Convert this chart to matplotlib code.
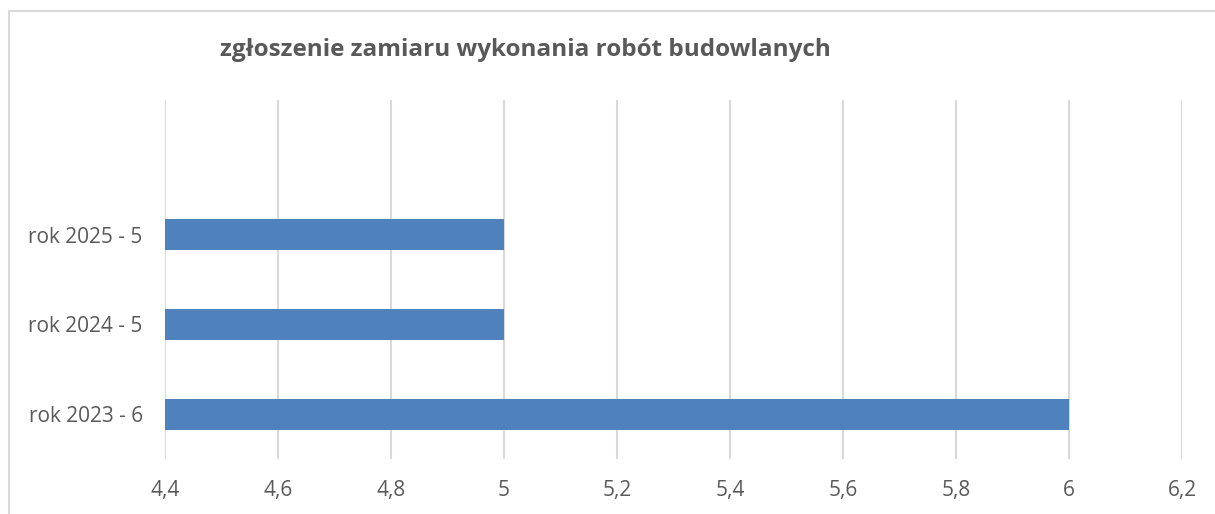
import matplotlib.pyplot as plt
from matplotlib.patches import Rectangle

# dane
kategorie = ['rok 2023 - 6', 'rok 2024 - 5', 'rok 2025 - 5']
wartosci = [6, 5, 5]
ticki = [4.4, 4.6, 4.8, 5.0, 5.2, 5.4, 5.6, 5.8, 6.0, 6.2]
tick_etykiety = ['4,4', '4,6', '4,8', '5', '5,2', '5,4', '5,6', '5,8', '6', '6,2']

plt.rcParams['font.family'] = ['Open Sans', 'DejaVu Sans']
szary = '#595959'

fig = plt.figure(figsize=(12.15, 5.14), dpi=100)
ax = fig.add_axes([165 / 1215, 1 - 459 / 514, (1182 - 165) / 1215, (459 - 100) / 514])

y = range(len(kategorie))
ax.barh(y, [w - 4.4 for w in wartosci], left=4.4, height=0.345, color='#4F81BD', zorder=3)

ax.set_xlim(4.4, 6.2)
ax.set_ylim(-0.5, 3.5)
ax.set_xticks(ticki)
ax.set_xticklabels(tick_etykiety, color=szary, fontsize=15)
ax.set_yticks(list(y))
ax.set_yticklabels(kategorie, color=szary, fontsize=15)
ax.tick_params(length=0)
ax.tick_params(axis='x', pad=15)
ax.tick_params(axis='y', pad=16)
ax.grid(axis='x', color='#d9d9d9', linewidth=1.5, zorder=0)
for s in ax.spines.values():
    s.set_visible(False)

fig.text(525 / 1215, 1 - 50 / 514, 'zgłoszenie zamiaru wykonania robót budowlanych',
         ha='center', va='center', fontsize=17.5, fontweight='bold', color=szary)

# ramka wykresu
fig.patches.append(Rectangle((9 / 1215, -0.1), 1.1, 1.1 - 11 / 514,
                             transform=fig.transFigure, fill=False,
                             edgecolor='#d9d9d9', linewidth=1.5))

fig.savefig('out.png', dpi=100)
